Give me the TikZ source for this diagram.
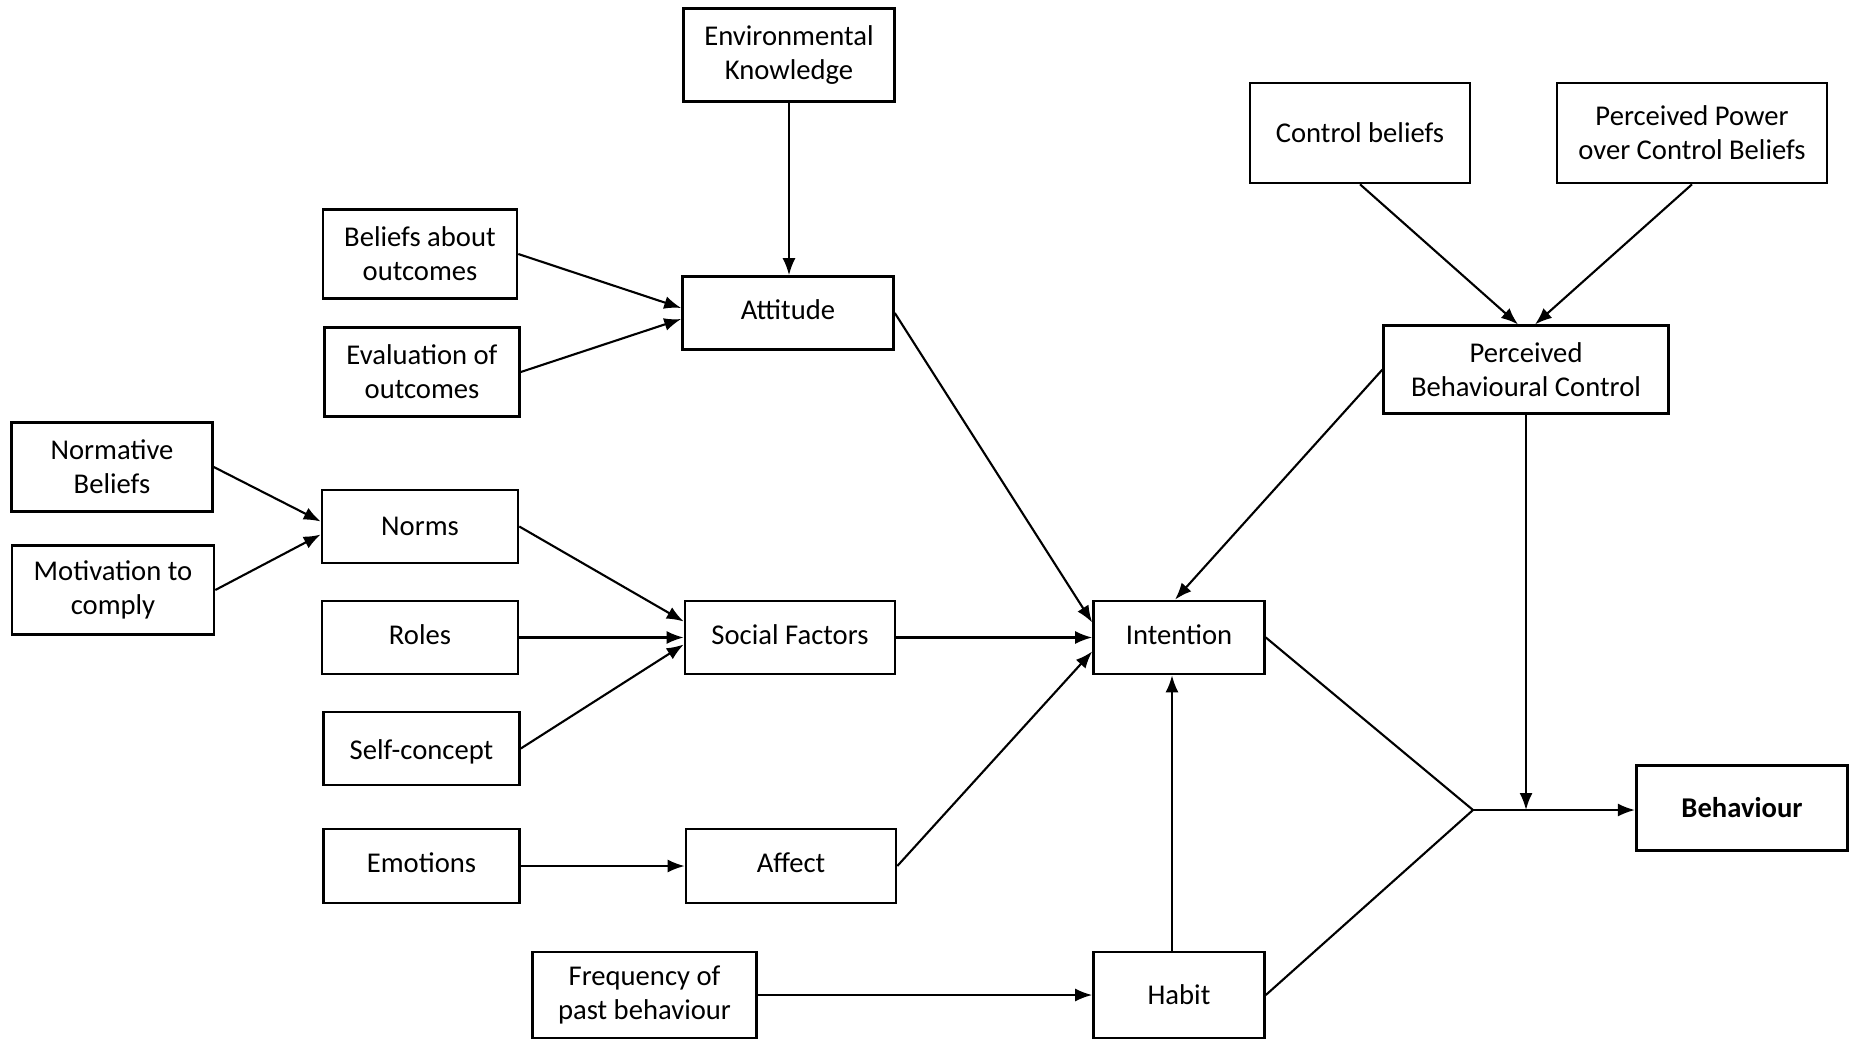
\documentclass[tikz,border=0pt]{standalone}
\usepackage{fontspec}
\setmainfont{Carlito}
\usetikzlibrary{arrows.meta,calc}
\begin{document}
\begin{tikzpicture}[x=0.02cm,y=-0.02cm,
  box/.style={draw,line width=1.5pt,align=center,inner sep=0pt,
    font=\fontsize{16.3}{19.3}\selectfont},
  raised/.style={text height=12pt,text depth=4.5pt},
  link/.style={line width=1.2pt,-{Latex[length=0.34cm,width=0.26cm]}},
  plain/.style={line width=1.2pt}]
\useasboundingbox (0,0) rectangle (1851,1041);

% attitude branch
\node[box,minimum width=4.22cm,minimum height=1.86cm] (env)  at (789,55)    {Environmental\\Knowledge};
\node[box,minimum width=3.88cm,minimum height=1.78cm] (bel)  at (420,254)   {Beliefs about\\outcomes};
\node[box,minimum width=3.90cm,minimum height=1.78cm] (eva)  at (422,372)   {Evaluation of\\outcomes};
\node[box,raised,minimum width=4.22cm,minimum height=1.46cm] (att)  at (788,313)   {Attitude};

% social branch
\node[box,minimum width=4.02cm,minimum height=1.78cm] (nbel) at (112,467)   {Normative\\Beliefs};
\node[box,minimum width=4.04cm,minimum height=1.78cm] (mot)  at (113,590)   {Motivation to\\comply};
\node[box,minimum width=3.92cm,minimum height=1.46cm] (nor)  at (420,526.5) {Norms};
\node[box,raised,minimum width=3.92cm,minimum height=1.46cm] (rol)  at (420,637.5) {Roles};
\node[box,text height=14.8pt,minimum width=3.92cm,minimum height=1.46cm] (self) at (421.5,748.5){Self-concept};
\node[box,raised,minimum width=4.20cm,minimum height=1.46cm] (soc)  at (790,637.5) {Social Factors};

% affect branch
\node[box,raised,minimum width=3.92cm,minimum height=1.48cm] (emo)  at (421.5,866) {Emotions};
\node[box,raised,minimum width=4.20cm,minimum height=1.48cm] (aff)  at (791,866)   {Affect};

% habit branch
\node[box,minimum width=4.48cm,minimum height=1.72cm] (freq) at (644.5,995) {Frequency of\\past behaviour};
\node[box,minimum width=3.42cm,minimum height=1.72cm] (hab)  at (1179,995)  {Habit};

% intention and control
\node[box,raised,minimum width=3.42cm,minimum height=1.46cm] (int)  at (1179,637.5){Intention};
\node[box,minimum width=4.40cm,minimum height=2.00cm] (cb)   at (1360,133)  {Control beliefs};
\node[box,minimum width=5.40cm,minimum height=2.00cm] (pp)   at (1692,133)  {Perceived Power\\over Control Beliefs};
\node[box,minimum width=5.69cm,minimum height=1.75cm] (pbc)  at (1526,369.5){Perceived\\Behavioural Control};
\node[box,minimum width=4.23cm,minimum height=1.70cm,font=\fontsize{16.3}{19.3}\selectfont\bfseries] (beh) at (1742,808) {Behaviour};

\coordinate (J) at (1473,810);

% connectors
\draw[link] (env.south) -- (env.south |- att.north);
\draw[link] (bel.east) -- ($(att.west)+(0,-5)$);
\draw[link] (eva.east) -- ($(att.west)+(0,6)$);
\draw[link] (att.east) -- ($(int.west)+(0,-15)$);

\draw[link] (nbel.east) -- ($(nor.west)+(0,-5)$);
\draw[link] (mot.east)  -- ($(nor.west)+(0,8)$);
\draw[link] (nor.east)  -- ($(soc.west)+(0,-16)$);
\draw[link] (rol.east)  -- (soc.west);
\draw[link] (self.east) -- ($(soc.west)+(0,7)$);
\draw[link] (soc.east)  -- (int.west);

\draw[link] (emo.east) -- (aff.west);
\draw[link] (aff.east) -- ($(int.west)+(0,14)$);

\draw[link] (freq.east) -- (hab.west);
\draw[link] ($(hab.north)+(-7,0)$) -- ($(int.south)+(-7,0)$);

\draw[link] (cb.south) -- ($(pbc.north)+(-8,0)$);
\draw[link] (pp.south) -- ($(pbc.north)+(9,0)$);
\draw[link] (pbc.west) -- ($(int.north)+(-4,0)$);

\draw[plain] (int.east) -- (J);
\draw[plain] (hab.east) -- (J);
\draw[link] (J) -- (J -| beh.west);
\draw[link] (pbc.south) -- (pbc.south |- J);
\end{tikzpicture}
\end{document}
